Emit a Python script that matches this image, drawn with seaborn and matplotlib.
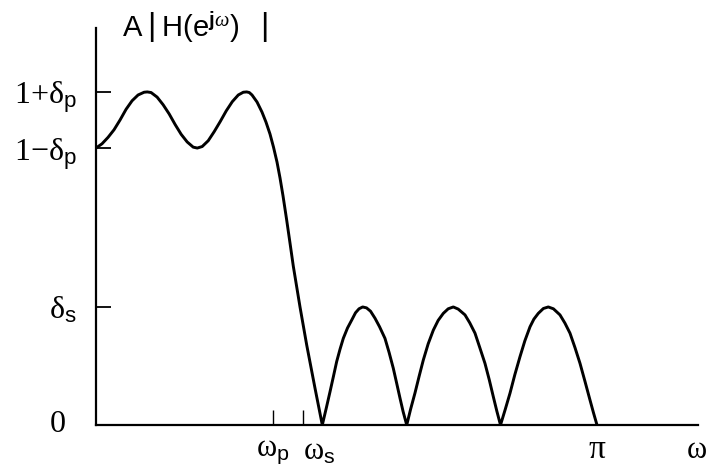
import numpy as np
import pandas as pd
import matplotlib
matplotlib.use("Agg")
import matplotlib.pyplot as plt
import seaborn as sns

# ---- data (omega in units of pi, amplitude) ----
omega = [0.000, 0.012, 0.024, 0.036, 0.048, 0.060, 0.072, 0.084, 0.096, 0.1024, 0.110, 0.122,
         0.134, 0.146, 0.158, 0.170, 0.182, 0.194, 0.2022, 0.212, 0.224, 0.236, 0.248, 0.260,
         0.272, 0.284, 0.294, 0.3008, 0.306, 0.3114, 0.3214, 0.3313, 0.3393, 0.3473, 0.3543,
         0.3613, 0.3673, 0.3733, 0.3806, 0.3872, 0.3938, 0.4072, 0.4206, 0.4371, 0.4517,
         0.460, 0.4671, 0.474, 0.4804, 0.487, 0.4936, 0.502, 0.5104, 0.518, 0.525, 0.5323,
         0.540, 0.548, 0.5569, 0.566, 0.5768, 0.585, 0.5934, 0.600, 0.6068, 0.613, 0.6202,
         0.628, 0.6367, 0.645, 0.6533, 0.663, 0.6733, 0.683, 0.6932, 0.703, 0.7132, 0.723,
         0.7365, 0.746, 0.7565, 0.766, 0.7764, 0.785, 0.7930, 0.800, 0.8074,
         0.817, 0.8263, 0.836, 0.8463, 0.856, 0.8663, 0.874, 0.8828, 0.893, 0.9028, 0.913,
         0.9261, 0.936, 0.9461, 0.956, 0.9661, 0.976, 0.9860, 0.993, 1.000]
amplitude = [0.908, 0.922, 0.943, 0.968, 1.000, 1.035, 1.063, 1.082, 1.091, 1.092, 1.090, 1.075,
             1.050, 1.020, 0.985, 0.953, 0.928, 0.911, 0.908, 0.913, 0.932, 0.962, 0.995, 1.030,
             1.060, 1.082, 1.091, 1.092, 1.090, 1.082, 1.059, 1.026, 0.993, 0.954, 0.911,
             0.862, 0.810, 0.751, 0.672, 0.597, 0.521, 0.387, 0.262, 0.121, 0.000,
             0.058, 0.109, 0.160, 0.208, 0.248, 0.284, 0.318, 0.344, 0.368, 0.381, 0.387,
             0.384, 0.373, 0.350, 0.322, 0.284, 0.238, 0.186, 0.138, 0.088, 0.044, 0.000,
             0.052, 0.105, 0.160, 0.213, 0.266, 0.311, 0.343, 0.366, 0.381, 0.387, 0.380,
             0.361, 0.335, 0.301, 0.254, 0.202, 0.148, 0.093, 0.046, 0.000,
             0.052, 0.104, 0.165, 0.224, 0.276, 0.322, 0.347, 0.366, 0.382, 0.387, 0.381,
             0.361, 0.334, 0.301, 0.254, 0.202, 0.143, 0.082, 0.040, 0.000]

delta_p = 0.092
delta_s = 0.387
omega_p = 0.3533
omega_s = 0.4126
ytick_vals = [delta_s, 1 - delta_p, 1 + delta_p]
ytick_labels = ["δ$_{\\rm s}$", "1−δ$_{\\rm p}$", "1+δ$_{\\rm p}$"]
xtick_vals = [omega_p, omega_s]
xtick_labels = ["ω$_{\\rm p}$", "ω$_{\\rm s}$"]

sns.set_theme(style="white")
plt.rcParams["font.family"] = ["Liberation Serif", "DejaVu Sans"]
plt.rcParams["mathtext.fontset"] = "custom"
plt.rcParams["mathtext.rm"] = "Liberation Sans"
plt.rcParams["mathtext.bf"] = "Liberation Sans:bold"
plt.rcParams["mathtext.it"] = "Liberation Serif:italic"

fig = plt.figure(figsize=(7.09, 4.70), dpi=100)
ax = fig.add_axes([96 / 709, 45 / 470, 602 / 709, 397 / 470])

df = pd.DataFrame({"omega": omega, "amp": amplitude})
sns.lineplot(data=df, x="omega", y="amp", color="black", linewidth=2.1, ax=ax, sort=False)
for ln in ax.get_lines():
    ln.set_solid_joinstyle("round")
    ln.set_solid_capstyle("round")

ax.set_xlim(0, 1.2016)
ax.set_ylim(0, 1.3016)
for s in ["top", "right"]:
    ax.spines[s].set_visible(False)
for s in ["left", "bottom"]:
    ax.spines[s].set_color("black")
    ax.spines[s].set_linewidth(1.6)

ax.set_yticks(ytick_vals)
ax.set_yticklabels(ytick_labels, fontsize=23)
ax.set_xticks(xtick_vals)
ax.set_xticklabels(xtick_labels, fontsize=22)
ax.tick_params(axis="y", left=True, direction="in", length=11, width=1.3, color="black", pad=14,
               labelcolor="black")
ax.tick_params(axis="x", bottom=True, direction="in", length=11, width=1.0, color="black", pad=9,
               labelcolor="black")
xl = ax.get_xticklabels()
xl[1].set_horizontalalignment("left")
ax.set_xlabel("")
ax.set_ylabel("")

ax.text(-0.0765, 0.0, "0", fontsize=23, ha="center", va="center", color="black", clip_on=False)
ax.text(1.0, -0.082, "π", fontsize=24, ha="center", va="center", color="black", clip_on=False)
ax.text(1.2, -0.082, "ω", fontsize=22, ha="center", va="center", color="black", clip_on=False)

fig.text(122 / 709, 1 - 27 / 470,
         "A$\\;\\left|\\;\\mathrm{H}(\\mathrm{e}^{\\mathbf{j}\\omega})\\quad\\right|$", fontsize=21,
         family="Liberation Sans", ha="left", va="center", color="black")

fig.savefig("out.png", dpi=100, facecolor="white")
